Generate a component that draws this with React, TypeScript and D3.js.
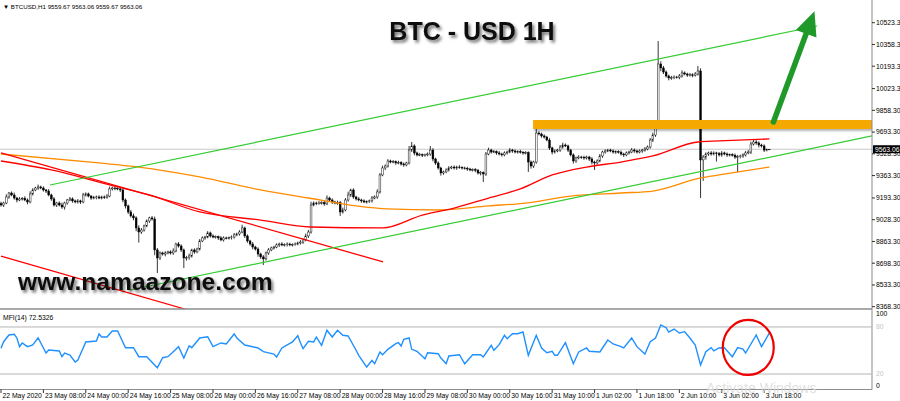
import React from 'react';
import * as d3 from 'd3';

// ---------- DATA ----------
const firstOpen = 9150;
const closes = [
  9140,9155,9201,9231,9216,9193,9178,9186,9190,9178,
  9163,9224,9254,9269,9277,9269,9254,9246,9216,9186,
  9140,9155,9140,9125,9155,9178,9186,9171,9163,9171,
  9163,9216,9224,9208,9193,9195,9201,9193,9201,9198,
  9208,9262,9269,9266,9262,9254,9178,9133,9087,9057,
  9042,8966,8935,8950,8981,9019,9042,9034,8799,8738,
  8776,8768,8776,8784,8776,8791,8844,8829,8799,8738,
  8740,8753,8799,8784,8806,8867,8890,8897,8928,8905,
  8897,8899,8890,8875,8890,8888,8892,8897,8913,8920,
  8935,8966,8905,8867,8844,8821,8806,8768,8746,8731,
  8776,8799,8814,8821,8837,8844,8837,8839,8844,8837,
  8840,8844,8852,8859,8875,8905,8935,9140,9155,9152,
  9155,9158,9148,9193,9178,9163,9155,9158,9087,9102,
  9178,9216,9254,9201,9186,9178,9171,9163,9166,9171,
  9193,9201,9239,9368,9421,9436,9474,9466,9469,9459,
  9462,9451,9444,9459,9557,9588,9535,9520,9522,9518,
  9520,9527,9557,9489,9459,9421,9383,9391,9406,9421,
  9428,9421,9428,9425,9421,9418,9413,9406,9408,9404,
  9383,9386,9375,9527,9557,9542,9545,9535,9527,9520,
  9535,9542,9557,9550,9542,9545,9540,9535,9537,9466,
  9436,9466,9686,9679,9664,9656,9633,9573,9542,9550,
  9557,9580,9595,9588,9557,9520,9474,9497,9504,9502,
  9497,9504,9489,9466,9459,9474,9512,9542,9550,9557,
  9550,9542,9545,9540,9527,9520,9535,9542,9557,9550,
  9542,9550,9557,9565,9580,9633,9671,9747,10210,10180,
  10149,10119,10104,10106,10111,10109,10119,10142,10134,10126,
  10128,10124,10134,10157,9482,9504,9527,9535,9527,9535,
  9530,9520,9535,9527,9520,9522,9518,9504,9506,9512,
  9520,9535,9542,9603,9618,9611,9595,9588,9557,9559.67,
  9563.06,
];
const hiWick = [
  15,10,20,8,12,18,9,14,10,16, 12,20,14,9,18,10,12,8,15,10,
  14,9,12,18,10,8,15,12,10,14, 9,16,12,10,8,14,10,12,9,11,
  15,18,10,12,9,14,20,12,10,15, 18,12,20,15,10,12,9,14,18,15,
  12,10,14,9,12,20,10,15,12,10, 14,18,9,12,10,15,12,9,14,10,
  12,10,9,14,12,10,8,12,15,10, 14,24,10,12,9,15,10,12,10,14,
  12,15,10,9,12,10,14,9,12,10, 9,12,10,14,12,18,15,25,12,10,
  14,10,12,20,10,12,9,15,12,18, 14,25,10,12,9,14,10,12,9,10,
  15,12,20,15,18,12,14,10,12,9, 14,10,12,9,30,30,12,10,14,9,
  10,12,31,14,10,12,9,10,12,14, 9,12,10,14,9,10,12,9,10,12,
  10,12,9,15,18,10,12,9,14,10, 12,10,15,9,12,10,14,9,12,10,
  12,10,38,14,10,12,9,14,10,12, 9,15,18,12,10,9,12,10,14,9,
  12,10,9,14,10,12,15,10,12,9, 10,12,9,10,14,9,12,10,15,12,
  10,12,9,14,12,15,18,20,174,20, 15,12,10,14,12,9,15,20,12,10,
  14,12,15,38,20,15,12,10,14,12, 9,12,14,10,12,9,10,12,14,10,
  12,15,14,18,20,14,12,10,12,8, 0,
];
const loWick = [
  12,15,9,14,10,12,18,9,12,10, 18,10,12,9,14,10,12,15,10,14,
  12,15,10,14,20,12,9,14,10,12, 15,10,12,9,14,10,12,9,10,12,
  10,9,12,14,10,15,18,20,15,12, 18,25,80,14,12,10,15,12,40,114,
  15,12,18,10,12,14,10,12,15,76, 20,15,12,14,10,12,9,14,10,12,
  10,12,15,10,12,9,10,14,12,10, 12,9,15,14,12,18,12,20,15,46,
  12,14,10,12,9,15,10,12,14,10, 12,9,10,12,14,10,15,12,10,14,
  10,12,14,9,12,15,10,14,30,12, 10,12,15,14,12,10,14,9,12,10,
  12,10,14,12,10,15,12,10,9,14, 10,12,14,10,12,15,18,12,10,14,
  12,10,14,18,15,12,20,14,10,12, 9,12,14,10,12,9,14,10,12,15,
  12,18,60,14,10,12,9,14,10,12, 10,12,9,14,10,12,10,14,12,75,
  20,15,12,10,14,12,10,15,18,12, 10,14,12,9,15,12,20,14,10,12,
  14,12,15,18,53,12,10,14,12,9, 10,12,14,10,12,15,10,12,9,14,
  12,10,14,12,10,12,15,14,20,25, 15,12,18,14,12,10,15,12,10,14,
  12,15,10,12,289,159,20,14,12,10, 60,12,14,10,15,12,10,14,115,12,
  14,12,10,15,12,14,18,12,15,10, 0,
];

// moving averages (bar index, price)
const maRedIdx = [0, 19, 41, 56, 75, 98, 117, 144, 159, 171, 184, 196, 208, 221, 234, 246, 263, 271, 290];
const maRedVal = [9474, 9406, 9292, 9216, 9087, 9026, 8973, 8966, 9064, 9117, 9193, 9262, 9368, 9428, 9466, 9512, 9618, 9626, 9641];
const maOrgIdx = [0, 37, 52, 75, 98, 116, 134, 146, 165, 184, 198, 215, 234, 246, 264, 271, 290];
const maOrgVal = [9527, 9459, 9428, 9353, 9254, 9193, 9133, 9110, 9102, 9133, 9155, 9208, 9231, 9246, 9345, 9368, 9428];

// MFI(14) vertices (bar index, value)
const mfiIdx = [0,1,3,5,6,7,8,10,12,14,17,18,22,23,24,26,28,29,32,36,37,38,40,42,44,47,50,52,55,59,61,63,65,67,69,71,72,75,78,80,83,85,88,89,92,97,99,103,104,106,110,112,113,114,116,118,119,121,123,125,127,129,131,134,135,138,140,141,143,144,146,149,150,151,152,154,155,157,160,161,165,166,168,169,173,175,178,181,182,185,186,188,190,191,193,195,197,199,202,204,206,208,209,210,213,216,218,221,222,226,227,229,231,234,235,238,240,243,245,247,249,251,252,254,256,258,260,262,264,266,268,269,271,273,276,278,280,281,285,287,290];
const mfiVal = [52.8,61.2,69.8,70.7,66,54.9,59.6,54.9,57,66.3,46.8,50.6,49.4,42.1,46.8,44.3,35.3,37.9,60.9,62.1,71.1,67.2,67.2,74.9,74.9,53.6,53.6,42.1,42.1,28,40.8,42.1,48.5,54.9,40.4,56.1,53.6,66,67.6,54.9,59.6,58.3,71.1,66,57,53.2,48.5,45.5,41.7,53.2,60.9,68.9,60,52.3,61.7,60.9,67.2,56.6,75.8,67.2,75.8,69.4,68.5,50.3,43.9,28.9,37.5,33.1,48.1,44.6,51.5,58.7,60,55.7,64.3,66,51.5,49,39.5,47.2,45.9,40.4,33.1,43,44.6,33.1,44.6,44.6,41.7,56.6,50.3,57.4,69.4,65.1,71.4,71.4,73.6,43.9,69.4,53.2,47.2,49,43.9,43.9,60,33.1,48.1,53.2,49,48.1,53.2,63.4,58.3,54.9,53.2,66,54.9,45.5,61.2,66,82.6,79.1,73.6,77.4,72.3,74,66,57,31.5,48.5,53.6,49.4,53.2,53.6,42.1,53.6,51.9,46.8,69.8,54.9,72.5];

// trend lines: [startIdx, startPrice, endIdx, endPrice]
const greenUpper = [18.5, 9292, 308, 10498];
const greenLower = [48.7, 8495, 328.7, 9664];
const redUpper = [0, 9535, 144.2, 8708];
const redLower = [0, 8753, 70, 8347];
const resistance = [200.8, 9751, 328.7, 9751];
const arrowPts = [291.5, 9770, 307, 10610];
const circleAt = [282, 53.9];
const lastPrice = 9563.06;

const priceLabels = ['10523.30','10358.30','10193.30','10023.30','9858.30','9693.30','9528.30','9363.30','9193.30','9028.30','8863.30','8698.30','8533.30','8368.30'];
const timeLabels = ['22 May 2020','23 May 08:00','24 May 00:00','24 May 16:00','25 May 08:00','26 May 00:00','26 May 16:00','27 May 08:00','28 May 00:00','28 May 16:00','29 May 08:00','30 May 00:00','30 May 16:00','31 May 10:00','1 Jun 02:00','1 Jun 18:00','2 Jun 10:00','3 Jun 02:00','3 Jun 18:00'];
const timeLabelStep = 16;
const mfiLevels = [80, 20];

// ---------- CHART ----------
const W = 900, H = 401;
const PR = 872; // plot right edge
const MAIN_BOTTOM = 309;
const FONT = '"Liberation Sans", Arial, sans-serif';

export default function App() {
  const x = d3.scaleLinear().domain([0, 328.7]).range([1, PR]);
  const y = d3.scaleLinear().domain([8368.3, 10523.3]).range([306.7, 22.7]);
  const ym = d3.scaleLinear().domain([0, 100]).range([389.7, 311.3]);

  const candles = closes.map((c, i) => {
    const o = i === 0 ? firstOpen : closes[i - 1];
    const hi = Math.max(o, c) + hiWick[i];
    const lo = Math.min(o, c) - loWick[i];
    return { i, o, c, hi, lo };
  });

  const lineGen = d3.line<[number, number]>().x(d => x(d[0])).y(d => y(d[1])).curve(d3.curveMonotoneX);
  const redPath = lineGen(maRedIdx.map((d, k) => [d, maRedVal[k]]));
  const orgPath = lineGen(maOrgIdx.map((d, k) => [d, maOrgVal[k]]));
  const mfiPath = d3.line<[number, number]>().x(d => x(d[0])).y(d => ym(d[1]))(mfiIdx.map((d, k) => [d, mfiVal[k]]));

  const seg = (a: number[], color: string, w: number) => (
    <line x1={x(a[0])} y1={y(a[1])} x2={x(a[2])} y2={y(a[3])} stroke={color} strokeWidth={w} />
  );

  // arrow geometry
  const ax1 = x(arrowPts[0]), ay1 = y(arrowPts[1]), ax2 = x(arrowPts[2]), ay2 = y(arrowPts[3]);
  const len = Math.hypot(ax2 - ax1, ay2 - ay1);
  const ux = (ax2 - ax1) / len, uy = (ay2 - ay1) / len;
  const headL = 24, headW = 11;
  const bx = ax2 - ux * headL, by = ay2 - uy * headL;
  const head = `${ax2},${ay2} ${bx - uy * headW},${by + ux * headW} ${bx + uy * headW},${by - ux * headW}`;

  const bw = 1.8;

  return (
    <svg width={W} height={H} style={{ position: 'fixed', left: 0, top: 0, background: '#fff' }} fontFamily={FONT}>
      <defs>
        <clipPath id="mainClip"><rect x={0} y={0} width={PR} height={MAIN_BOTTOM} /></clipPath>
        <clipPath id="mfiClip"><rect x={0} y={311} width={PR} height={78} /></clipPath>
        <filter id="shadow" x="-10%" y="-30%" width="130%" height="180%">
          <feDropShadow dx="2" dy="2.5" stdDeviation="1.6" floodColor="#000" floodOpacity="0.55" />
        </filter>
        <filter id="barShadow" x="-5%" y="-50%" width="110%" height="250%">
          <feDropShadow dx="1" dy="2" stdDeviation="1.2" floodColor="#000" floodOpacity="0.3" />
        </filter>
      </defs>
      <rect x={0} y={0} width={W} height={H} fill="#fff" />

      {/* header */}
      <text x={3} y={8.5} fontSize={6.2} fill="#000">▼ BTCUSD,H1  9559.67 9563.06 9559.67 9563.06</text>

      <g clipPath="url(#mainClip)">
        {/* current price line */}
        <line x1={0} x2={PR} y1={y(lastPrice)} y2={y(lastPrice)} stroke="#c8c8c8" strokeWidth={1} />

        {/* candles */}
        {candles.map(d => {
          const cx = x(d.i);
          const top = y(Math.max(d.o, d.c));
          const bot = y(Math.min(d.o, d.c));
          const bull = d.c >= d.o;
          return (
            <g key={d.i}>
              <line x1={cx} x2={cx} y1={y(d.hi)} y2={y(d.lo)} stroke="#000" strokeWidth={0.8} />
              <rect x={cx - bw / 2} y={top} width={bw} height={Math.max(0.6, bot - top)}
                fill={bull ? '#fff' : '#000'} stroke="#000" strokeWidth={0.45} />
            </g>
          );
        })}

        {/* moving averages */}
        <path d={orgPath || ''} fill="none" stroke="#ff8c00" strokeWidth={1.3} />
        <path d={redPath || ''} fill="none" stroke="#ff0000" strokeWidth={1.3} />

        {/* trendlines */}
        {seg(redUpper, '#ff0000', 1.3)}
        {seg(redLower, '#ff0000', 1.3)}
        {seg(greenUpper, '#33cc33', 1.2)}
        {seg(greenLower, '#33cc33', 1.2)}

        {/* resistance band */}
        <rect x={x(resistance[0])} y={y(resistance[1]) - 4.5} width={x(resistance[2]) - x(resistance[0])} height={9}
          fill="#f5a800" filter="url(#barShadow)" />

        {/* arrow */}
        <line x1={ax1} y1={ay1} x2={bx} y2={by} stroke="#1f9a2a" strokeWidth={5.5} strokeLinecap="round" />
        <polygon points={head} fill="#1f9a2a" />
      </g>

      {/* titles */}
      <text x={472} y={40} textAnchor="middle" fontSize={25} fontWeight="bold" fill="#111" filter="url(#shadow)"
        fontFamily='"Liberation Sans", Arial, sans-serif'>BTC - USD 1H</text>
      <text x={18} y={290} fontSize={24.6} fontWeight="bold" fill="#111" filter="url(#shadow)"
        fontFamily='"Liberation Sans", Arial, sans-serif'>www.namaazone.com</text>

      {/* panel separators & axes */}
      <line x1={0} x2={PR} y1={MAIN_BOTTOM} y2={MAIN_BOTTOM} stroke="#8c8c8c" strokeWidth={1.6} />
      <line x1={PR} x2={PR} y1={0} y2={389.5} stroke="#8c8c8c" strokeWidth={1} />
      <line x1={0} x2={PR} y1={389.5} y2={389.5} stroke="#8c8c8c" strokeWidth={1} />

      {/* price axis */}
      {priceLabels.map(l => {
        const yy = y(parseFloat(l));
        return (
          <g key={l}>
            <line x1={PR} x2={PR + 3} y1={yy} y2={yy} stroke="#000" strokeWidth={0.8} />
            <text x={PR + 4} y={yy} dy="0.35em" fontSize={6.8} fill="#000">{l}</text>
          </g>
        );
      })}
      <rect x={PR + 1} y={y(lastPrice) - 4} width={W - PR} height={8} fill="#000" />
      <text x={PR + 3} y={y(lastPrice)} dy="0.35em" fontSize={6.8} fill="#fff">{lastPrice.toFixed(2)}</text>

      {/* MFI panel */}
      <text x={3} y={319.5} fontSize={6.8} fill="#000">MFI(14) 72.5326</text>
      {mfiLevels.map(v => (
        <g key={v}>
          <line x1={0} x2={PR} y1={ym(v)} y2={ym(v)} stroke="#b4b4b4" strokeWidth={1} />
          <text x={PR + 4} y={ym(v)} dy="0.35em" fontSize={6.8} fill="#c4c4c4">{v}</text>
        </g>
      ))}
      <text x={PR + 4} y={ym(100) + 2.5} dy="0.35em" fontSize={6.8} fill="#000">100</text>
      <text x={PR + 4} y={ym(0) - 4.5} dy="0.35em" fontSize={6.8} fill="#000">0</text>
      <g clipPath="url(#mfiClip)">
        <path d={mfiPath || ''} fill="none" stroke="#1e90ff" strokeWidth={1.4} />
      </g>
      <ellipse cx={x(circleAt[0])} cy={ym(circleAt[1])} rx={25.5} ry={27.5} fill="none" stroke="#ee0000" strokeWidth={2.2} />

      {/* time axis */}
      {timeLabels.map((l, k) => {
        const xx = x(k * timeLabelStep);
        return (
          <g key={l}>
            <line x1={xx} x2={xx} y1={389.5} y2={393} stroke="#000" strokeWidth={0.8} />
            <text x={xx + 1.5} y={398} fontSize={6.8} fill="#000">{l}</text>
          </g>
        );
      })}

      {/* watermark */}
      <text x={706} y={393} fontSize={14} fill="#d8d8d8" fillOpacity={0.8}>Activate Windows</text>
    </svg>
  );
}
